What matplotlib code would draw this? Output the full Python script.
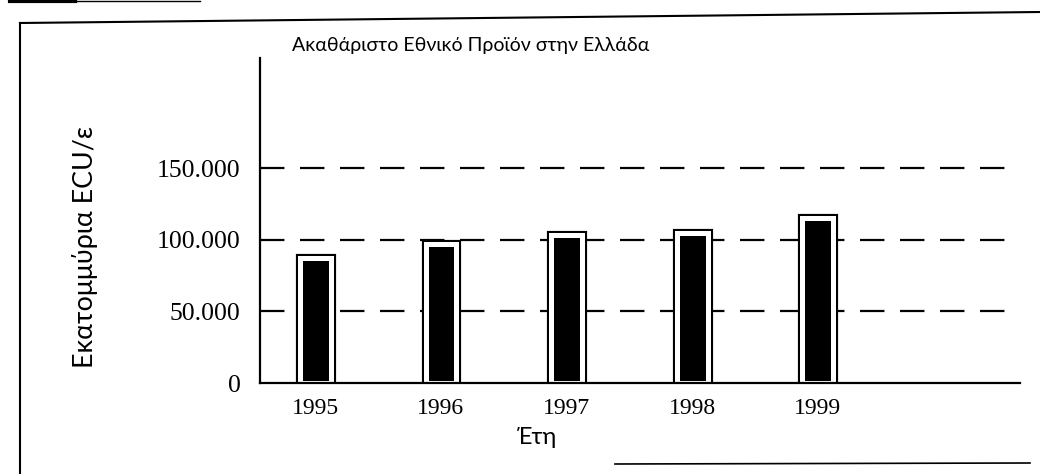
import matplotlib
matplotlib.use("Agg")
import matplotlib.pyplot as plt
import matplotlib.patheffects as pe
from matplotlib.lines import Line2D

years = ["1995", "1996", "1997", "1998", "1999"]
values = [87600, 97000, 103600, 105000, 115500]
yticks = [0, 50000, 100000, 150000]
ytick_labels = ["0", "50.000", "100.000", "150.000"]
title = "Ακαθάριστο Εθνικό Προϊόν στην Ελλάδα"
ylabel = "Εκατομμύρια ECU/ε"
xlabel = "Έτη"

W, H = 1040, 474
fig = plt.figure(figsize=(W / 100, H / 100), dpi=100)
ax = fig.add_axes([260 / W, 1 - 383 / H, 760 / W, 325 / H])

pos = list(range(len(years)))
ax.set_xlim(-0.44, 5.61)
ax.set_ylim(0, 227000)

for y in yticks[1:]:
    ax.axhline(y, color="black", lw=1.6, dashes=(11, 7), zorder=1)

bars = ax.bar(pos, values, width=0.245, color="black", edgecolor="white",
              linewidth=3.6, zorder=3)
for b in bars:
    b.set_path_effects([pe.Stroke(linewidth=6.6, foreground="black"), pe.Normal()])

for s in ["top", "right"]:
    ax.spines[s].set_visible(False)
for s in ["left", "bottom"]:
    ax.spines[s].set_linewidth(1.6)
    ax.spines[s].set_zorder(4)

ax.set_yticks(yticks)
ax.set_yticklabels(ytick_labels, family="Liberation Serif", fontsize=18.5)
ax.set_xticks(pos)
ax.set_xticklabels(years, family="Liberation Serif", fontsize=17)
ax.tick_params(axis="y", length=0, pad=14)
ax.tick_params(axis="x", length=0, pad=11)

ax.set_ylabel(ylabel, family="Lato", fontsize=19.3)
ax.yaxis.set_label_coords((98 - 260) / 760, (383 - 247) / 325)
ax.set_xlabel(xlabel, family="Lato", fontsize=17)
ax.xaxis.set_label_coords((537 - 260) / 760, (383 - 438) / 325)
ax.xaxis.label.set_va("center")

fig.text(471 / W, 1 - 45 / H, title, family="Lato", fontsize=14,
         ha="center", va="center")

# scanned frame lines
fig.add_artist(Line2D([20 / W, 20 / W], [1 - 23 / H, 0], color="black", lw=1.5,
                      transform=fig.transFigure))
fig.add_artist(Line2D([20 / W, 1040 / W], [1 - 23 / H, 1 - 12 / H], color="black", lw=1.5,
                      transform=fig.transFigure))
fig.add_artist(Line2D([615 / W, 1030 / W], [1 - 464 / H, 1 - 463 / H], color="black", lw=1.2,
                      transform=fig.transFigure))
fig.add_artist(Line2D([10 / W, 75 / W], [1 - 1 / H, 1 - 1 / H], color="black", lw=3,
                      transform=fig.transFigure))
fig.add_artist(Line2D([75 / W, 200 / W], [1 - 1 / H, 1 - 1 / H], color="black", lw=1,
                      transform=fig.transFigure))

fig.savefig("out.png", dpi=100)
